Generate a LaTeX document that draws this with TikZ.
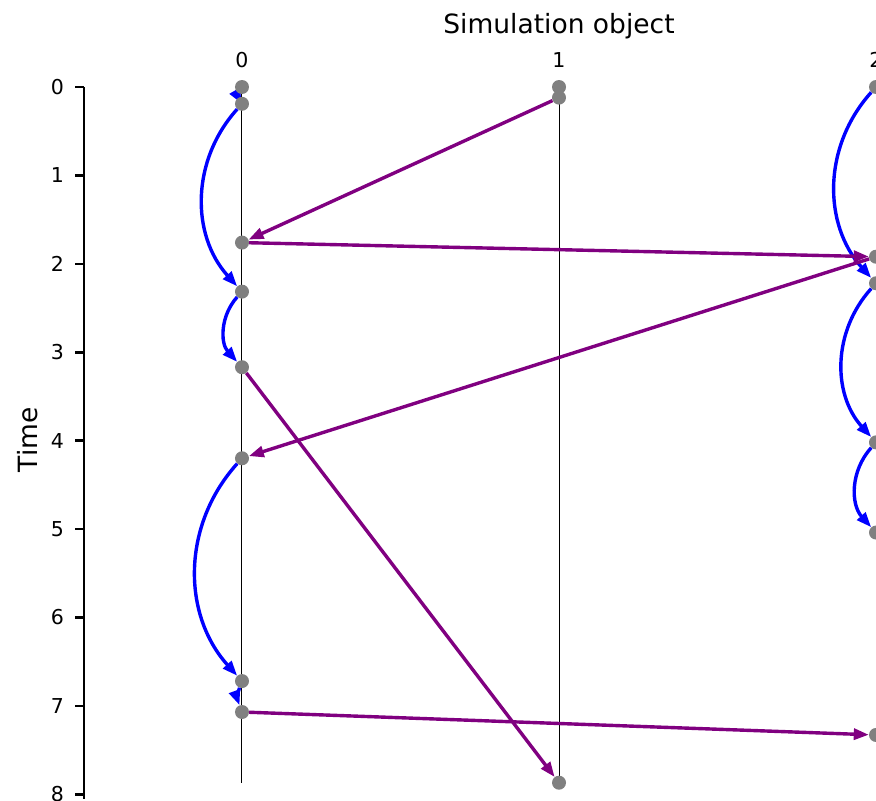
\documentclass[tikz,border=0pt]{standalone}
\usepackage{fontspec}
\setmainfont{DejaVu Sans}
\usetikzlibrary{arrows.meta,backgrounds}
\definecolor{msgpurple}{HTML}{800080}
\begin{document}
\begin{tikzpicture}[x=317pt, y=-88.4pt,
    ev/.style={circle, fill=gray, inner sep=0pt, minimum size=14pt},
    seq/.style={blue, line width=3.4pt, -{Triangle[length=15pt, width=11pt]}, bend right=42},
    msg/.style={msgpurple, line width=3.4pt, -{Triangle[length=15pt, width=11pt]}},
    tick/.style={font=\fontsize{20.5}{24}\selectfont},
    lbl/.style={font=\fontsize{26.5}{30}\selectfont}]
    \useasboundingbox (-0.7634,-0.9842) rectangle (2,8.0656);
    % time axis
    \draw[line width=2.6pt] (-0.498,0) -- (-0.498,8.05);
    \foreach \t in {0,...,8} {
        \draw[line width=2.6pt] (-0.498,\t) -- (-0.527,\t);
        \node[tick, anchor=east, inner sep=0pt] (tl\t) at (-0.5615,\t) {\t};
    }
    \node[lbl, rotate=90] (ttl) at (-0.675,3.99) {Time};
    \node[lbl] (stl) at (1,-0.69) {Simulation object};
    \foreach \x in {0,1,2}
        \node[tick] (col\x) at (\x,-0.305) {\x};
    % events
    \foreach \n/\t in {a0/0, a1/0.19, a2/1.76, a3/2.315, a4/3.17, a5/4.2, a6/6.72, a7/7.07}
        \node[ev] (\n) at (0,\t) {};
    \foreach \n/\t in {b0/0, b1/0.12, b2/7.87}
        \node[ev] (\n) at (1,\t) {};
    \foreach \n/\t in {c0/0, c1/1.92, c2/2.22, c3/4.02, c4/5.04, c5/7.33}
        \node[ev] (\n) at (2,\t) {};
    \begin{scope}[on background layer]
        \foreach \n in {a0,b0,c0}
            \draw[line width=1pt] (\n.center) -- (\n.center |- b2.center);
        \draw[seq, bend right=30] (a0.center) to (a1.center);
    \end{scope}
    % same object
    \foreach \p/\q in {a1/a3, a3/a4, a5/a6, c0/c2, c2/c3, c3/c4}
        \draw[seq] (\p) to (\q);
    \draw[seq, bend right=20] (a6) to (a7);
    % messages
    \foreach \p/\q in {b1/a2, a2/c1, c1/a5, a4/b2, a7/c5}
        \draw[msg] (\p) -- (\q);
\end{tikzpicture}
\end{document}
